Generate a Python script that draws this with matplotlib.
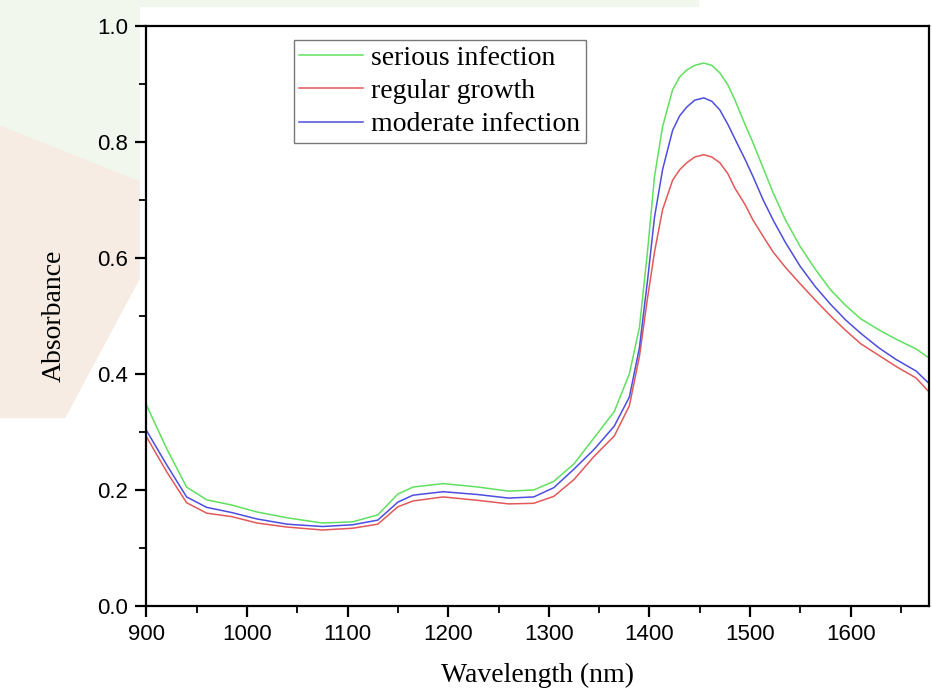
import matplotlib.pyplot as plt
from matplotlib.patches import Polygon
from matplotlib.ticker import MultipleLocator

# wavelength (nm) and absorbance
wavelength = [900, 920, 940, 960, 985, 1010, 1040, 1075, 1105, 1130, 1150, 1165,
              1195, 1230, 1260, 1285, 1305, 1325, 1345, 1365, 1380, 1390, 1398,
              1405, 1413, 1423, 1430, 1437, 1445, 1454, 1462, 1470, 1478, 1485,
              1495, 1503, 1513, 1523, 1535, 1550, 1565, 1580, 1595, 1610, 1628,
              1645, 1665, 1680]
serious = [0.347, 0.272, 0.205, 0.183, 0.174, 0.162, 0.152, 0.143, 0.145, 0.157,
           0.193, 0.205, 0.211, 0.205, 0.198, 0.200, 0.215, 0.245, 0.290, 0.335,
           0.400, 0.480, 0.610, 0.740, 0.826, 0.890, 0.912, 0.924, 0.932, 0.936,
           0.932, 0.919, 0.898, 0.872, 0.830, 0.798, 0.755, 0.712, 0.666, 0.619,
           0.580, 0.545, 0.518, 0.495, 0.476, 0.460, 0.443, 0.425]
regular = [0.292, 0.232, 0.178, 0.160, 0.154, 0.143, 0.136, 0.131, 0.134, 0.141,
           0.171, 0.181, 0.188, 0.182, 0.176, 0.177, 0.189, 0.218, 0.258, 0.293,
           0.345, 0.430, 0.530, 0.610, 0.683, 0.734, 0.752, 0.764, 0.774, 0.778,
           0.774, 0.764, 0.745, 0.720, 0.692, 0.665, 0.637, 0.610, 0.584, 0.555,
           0.527, 0.500, 0.475, 0.452, 0.432, 0.413, 0.393, 0.365]
moderate = [0.303, 0.244, 0.188, 0.170, 0.161, 0.150, 0.141, 0.137, 0.140, 0.148,
            0.179, 0.191, 0.197, 0.192, 0.186, 0.188, 0.204, 0.236, 0.270, 0.310,
            0.360, 0.445, 0.560, 0.670, 0.752, 0.820, 0.845, 0.860, 0.872, 0.876,
            0.870, 0.855, 0.830, 0.805, 0.770, 0.740, 0.700, 0.665, 0.627, 0.585,
            0.550, 0.520, 0.493, 0.470, 0.445, 0.425, 0.405, 0.380]

fig = plt.figure(figsize=(9.32, 6.97), dpi=100)

# faint watermark behind everything on the left edge
bg = fig.add_axes([0, 0, 1, 1], zorder=0)
bg.set_xlim(0, 1)
bg.set_ylim(0, 1)
bg.axis('off')
bg.add_patch(Polygon([[0, 1], [0.75, 1], [0.75, 0.99], [0.15, 0.99], [0.15, 0.6], [0, 0.6]],
                     closed=True, facecolor='#f1f7ec', edgecolor='none'))
bg.add_patch(Polygon([[0, 0.82], [0.15, 0.74], [0.15, 0.6], [0.07, 0.4], [0, 0.4]],
                     closed=True, facecolor='#f6ece4', edgecolor='none'))

ax = fig.add_axes([0.157, 0.1306, 0.84, 0.8322], zorder=1)
ax.plot(wavelength, serious, color='#5fe05f', lw=1.1, label='serious infection')
ax.plot(wavelength, regular, color='#e35858', lw=1.1, label='regular growth')
ax.plot(wavelength, moderate, color='#4d4de0', lw=1.1, label='moderate infection')

ax.set_xlim(900, 1678)
ax.set_ylim(0, 1.0)
ax.xaxis.set_major_locator(MultipleLocator(100))
ax.xaxis.set_minor_locator(MultipleLocator(50))
ax.yaxis.set_major_locator(MultipleLocator(0.2))
ax.yaxis.set_minor_locator(MultipleLocator(0.1))
ax.yaxis.set_major_formatter(plt.FormatStrFormatter('%.1f'))
ax.tick_params(which='major', direction='out', length=8, width=1.6, labelsize=16, pad=5)
ax.tick_params(which='minor', direction='out', length=5, width=1.3)
for lab in ax.get_xticklabels() + ax.get_yticklabels():
    lab.set_fontfamily('Liberation Sans')
for s in ax.spines.values():
    s.set_linewidth(1.6)

ax.set_xlabel('Wavelength (nm)', fontsize=20, family='Liberation Serif', labelpad=13)
ax.set_ylabel('Absorbance', fontsize=20, family='Liberation Serif', labelpad=22)

leg = ax.legend(loc='upper left', bbox_to_anchor=(0.188, 0.976), borderaxespad=0,
                prop={'family': 'Liberation Serif', 'size': 20}, fancybox=False,
                edgecolor='#555555', handlelength=2.3, labelspacing=0.28,
                handletextpad=0.3, borderpad=0.2)
leg.get_frame().set_linewidth(1.0)

fig.savefig('out.png', dpi=100)
